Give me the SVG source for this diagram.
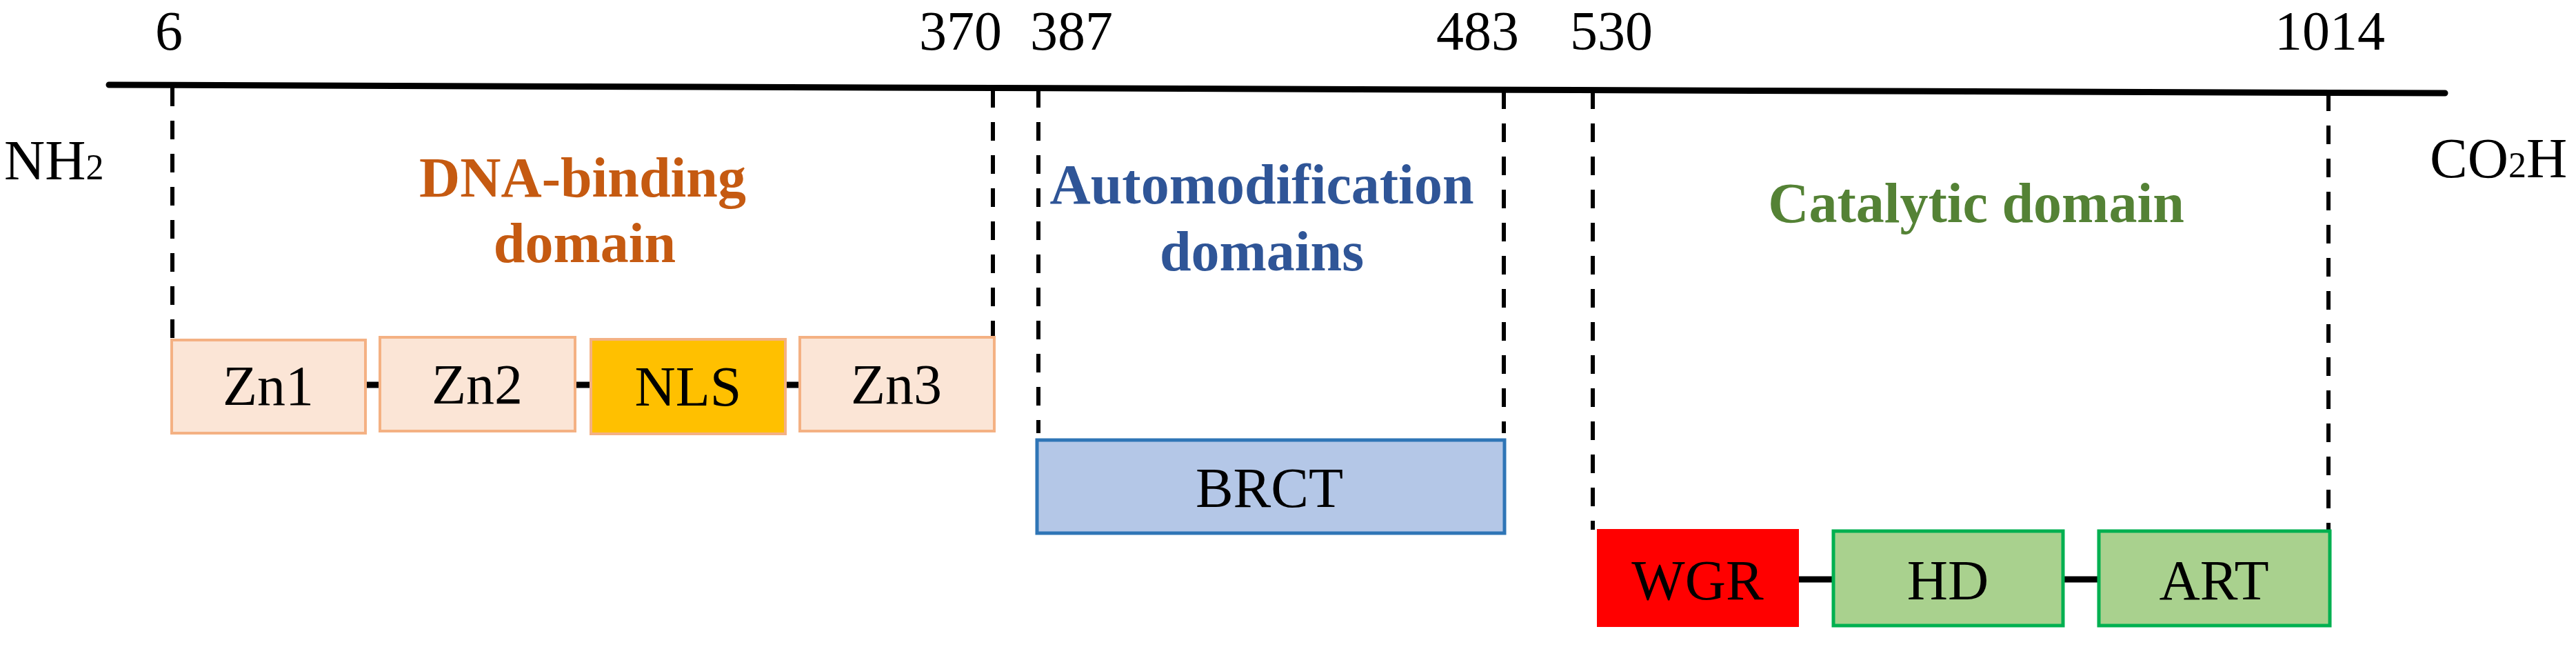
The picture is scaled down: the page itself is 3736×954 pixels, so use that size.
<svg xmlns="http://www.w3.org/2000/svg" width="3736" height="954" viewBox="0 0 3736 954">
<style>
text{font-family:"Liberation Serif","Times New Roman",serif;}
.num{font-size:80px;fill:#000;text-anchor:middle;}
.term{font-size:82px;fill:#000;}
.sub{font-size:52px;}
.dom{font-size:82px;font-weight:bold;text-anchor:middle;}
.lbl{font-size:82px;fill:#000;text-anchor:middle;}
.zn{fill:#fbe5d6;stroke:#f4b183;stroke-width:4;}
.nls{fill:#ffc000;stroke:#f4b183;stroke-width:4;}
.brct{fill:#b4c7e7;stroke:#2e75b6;stroke-width:5;}
.wgr{fill:#ff0000;stroke:#ff0000;stroke-width:2;}
.grn{fill:#a9d18e;stroke:#00b050;stroke-width:5;}
.dash{stroke:#000;stroke-width:6;stroke-dasharray:27 21;fill:none;}
.link{stroke:#000;stroke-width:9;fill:none;}
</style>
<rect width="3736" height="954" fill="#fff"/>

<g id="axis">
<line x1="158" y1="123" x2="3546" y2="135" stroke="#000" stroke-width="9" stroke-linecap="round"/>
<text class="num" x="245" y="72">6</text>
<text class="num" x="1393" y="72">370</text>
<text class="num" x="1554" y="72">387</text>
<text class="num" x="2143" y="72">483</text>
<text class="num" x="2337" y="72">530</text>
<text class="num" x="3379" y="72">1014</text>
<text class="term" x="6" y="260">NH<tspan class="sub">2</tspan></text>
<text class="term" x="3524" y="257">CO<tspan class="sub">2</tspan>H</text>
</g>

<g id="connectors">
<line class="dash" x1="250" y1="127" x2="250" y2="491"/>
<line class="dash" x1="1440" y1="129" x2="1440" y2="487"/>
<line class="dash" x1="1506" y1="129" x2="1506" y2="628"/>
<line class="dash" x1="2181" y1="131" x2="2181" y2="628"/>
<line class="dash" x1="2310" y1="131" x2="2310" y2="768"/>
<line class="dash" x1="3377" y1="134" x2="3377" y2="768"/>
<line class="link" x1="530" y1="558" x2="551" y2="558"/>
<line class="link" x1="834" y1="558" x2="857" y2="558"/>
<line class="link" x1="1139" y1="558" x2="1160" y2="558"/>
<line class="link" x1="2608" y1="840" x2="2659" y2="840"/>
<line class="link" x1="2992" y1="840" x2="3044" y2="840"/>
</g>

<g id="dna-binding-label">
<text class="dom" fill="#c55a11" x="845" y="285">DNA-binding</text>
<text class="dom" fill="#c55a11" x="848" y="380">domain</text>
</g>
<g id="automod-label">
<text class="dom" fill="#2f5597" x="1830" y="295">Automodification</text>
<text class="dom" fill="#2f5597" x="1830" y="392">domains</text>
</g>
<g id="catalytic-label">
<text class="dom" fill="#548235" x="2866" y="322">Catalytic domain</text>
</g>

<g id="Zn1">
<rect class="zn" x="249" y="493" width="281" height="135"/>
<text class="lbl" x="389" y="587">Zn1</text>
</g>
<g id="Zn2">
<rect class="zn" x="551" y="489" width="283" height="136"/>
<text class="lbl" x="692" y="585">Zn2</text>
</g>
<g id="NLS">
<rect class="nls" x="857" y="492" width="282" height="137"/>
<text class="lbl" x="998" y="588">NLS</text>
</g>
<g id="Zn3">
<rect class="zn" x="1160" y="489" width="282" height="136"/>
<text class="lbl" x="1300" y="585">Zn3</text>
</g>

<g id="BRCT">
<rect class="brct" x="1504" y="638" width="678" height="135"/>
<text class="lbl" x="1841" y="735">BRCT</text>
</g>

<g id="WGR">
<rect class="wgr" x="2317" y="768" width="291" height="140"/>
<text class="lbl" x="2462" y="869">WGR</text>
</g>
<g id="HD">
<rect class="grn" x="2659" y="770" width="333" height="137"/>
<text class="lbl" x="2825" y="869">HD</text>
</g>
<g id="ART">
<rect class="grn" x="3044" y="770" width="335" height="137"/>
<text class="lbl" x="3211" y="869">ART</text>
</g>
</svg>
